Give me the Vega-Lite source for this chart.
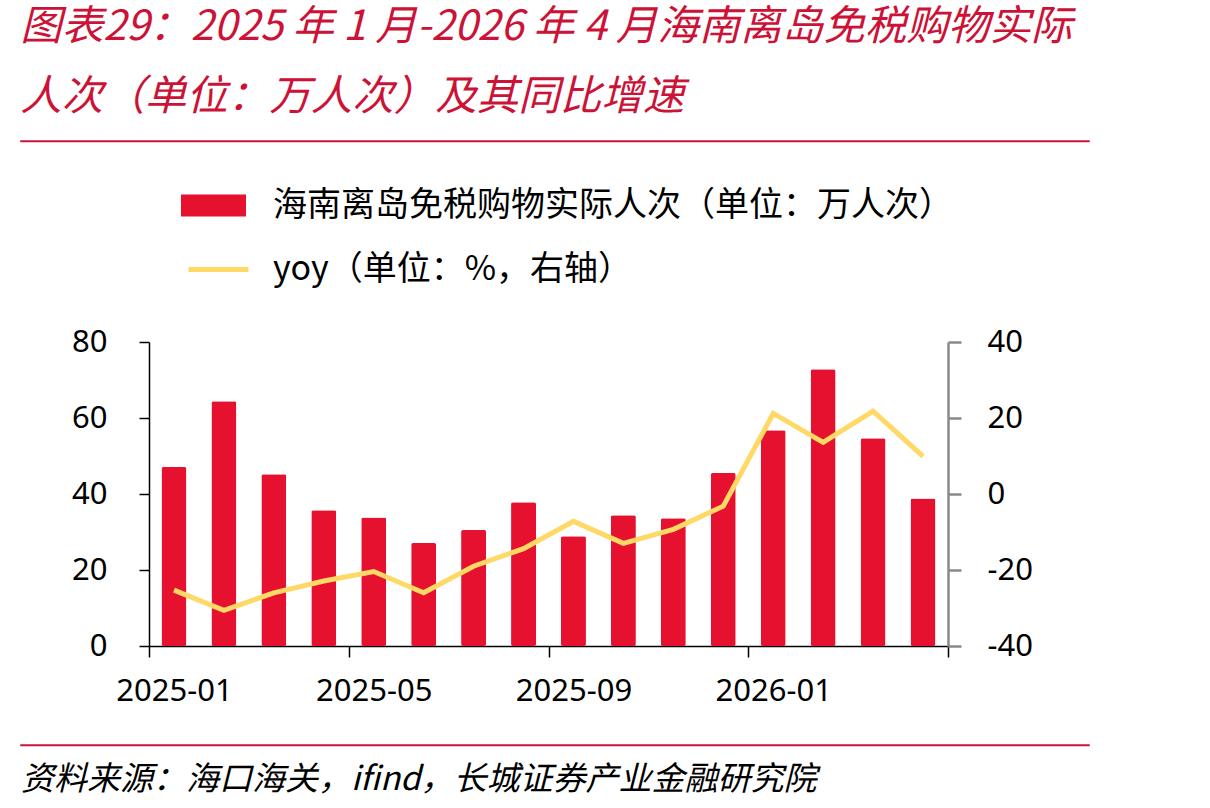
{
  "$schema": "https://vega.github.io/schema/vega-lite/v6.json",
  "background": "white",
  "padding": {"left": 20, "top": 6, "right": 0, "bottom": 0},
  "title": {
    "text": ["图表29：2025 年 1 月-2026 年 4 月海南离岛免税购物实际", "人次（单位：万人次）及其同比增速"],
    "anchor": "start",
    "font": "Noto Sans CJK SC",
    "fontSize": 41.5,
    "fontStyle": "italic",
    "fontWeight": "normal",
    "color": "#CC1236",
    "lineHeight": 70,
    "offset": 22
  },
  "datasets": {
    "tourism": [
      {"month": "2025-01", "visits": 47.1, "yoy": -25.3},
      {"month": "2025-02", "visits": 64.4, "yoy": -30.6},
      {"month": "2025-03", "visits": 45.2, "yoy": -26.0},
      {"month": "2025-04", "visits": 35.7, "yoy": -22.9},
      {"month": "2025-05", "visits": 33.8, "yoy": -20.4},
      {"month": "2025-06", "visits": 27.1, "yoy": -26.0},
      {"month": "2025-07", "visits": 30.5, "yoy": -19.0},
      {"month": "2025-08", "visits": 37.8, "yoy": -14.4},
      {"month": "2025-09", "visits": 28.9, "yoy": -7.2},
      {"month": "2025-10", "visits": 34.4, "yoy": -13.0},
      {"month": "2025-11", "visits": 33.6, "yoy": -9.3},
      {"month": "2025-12", "visits": 45.5, "yoy": -3.2},
      {"month": "2026-01", "visits": 56.8, "yoy": 21.2},
      {"month": "2026-02", "visits": 72.8, "yoy": 13.6},
      {"month": "2026-03", "visits": 54.7, "yoy": 21.8},
      {"month": "2026-04", "visits": 38.8, "yoy": 9.9}
    ]
  },
  "concat": [
    {
      "width": 1068,
      "height": 0.5,
      "view": {"stroke": "#CC1236", "strokeWidth": 1.5},
      "data": {"values": []},
      "mark": "point"
    },
    {
      "hconcat": [
        {
          "width": 28,
          "height": 1,
          "data": {"values": []},
          "mark": "point"
        },
        {
          "width": 799,
          "height": 304,
          "data": {"name": "tourism"},
          "encoding": {
            "x": {
              "field": "month",
              "type": "ordinal",
              "scale": {"paddingInner": 0, "paddingOuter": 0},
              "axis": {
                "orient": "bottom",
                "title": "\u00a0",
                "titleX": 0,
                "titleY": 67,
                "titleAngle": 0,
                "titleAlign": "left",
                "titleBaseline": "bottom",
                "titleFontSize": 8,
                "domainColor": "black",
                "domainWidth": 1.5,
                "tickBand": "extent",
                "tickColor": "black",
                "tickWidth": 1.5,
                "tickSize": 11,
                "tickOpacity": {
                  "condition": {"test": "datum.extra || indexof(['2025-04','2025-08','2025-12','2026-04'], datum.value) >= 0", "value": 1},
                  "value": 0
                },
                "labelExpr": "indexof(['2025-01','2025-05','2025-09','2026-01'], datum.value) >= 0 ? datum.value : ''",
                "labelAngle": 0,
                "labelOverlap": false,
                "labelFont": "Noto Sans",
                "labelFontSize": 31,
                "labelColor": "black",
                "labelPadding": 19
              }
            }
          },
          "layer": [
            {
              "mark": {"type": "bar", "width": {"band": 0.5}, "cornerRadius": 2},
              "encoding": {
                "y": {
                  "field": "visits",
                  "type": "quantitative",
                  "scale": {"domain": [0, 80]},
                  "axis": {
                    "orient": "left",
                    "values": [0, 20, 40, 60, 80],
                    "grid": false,
                    "domainColor": "black",
                    "domainWidth": 1.5,
                    "tickColor": "black",
                    "tickWidth": 1.5,
                    "tickSize": 10,
                    "labelFont": "Noto Sans",
                    "labelFontSize": 31,
                    "labelColor": "black",
                    "labelPadding": 32,
                    "title": "\u00a0",
                    "titleX": -100,
                    "titleY": -168,
                    "titleAngle": 0,
                    "titleAlign": "left",
                    "titleBaseline": "top",
                    "titleFontSize": 8
                  }
                },
                "fill": {
                  "datum": "海南离岛免税购物实际人次（单位：万人次）",
                  "type": "nominal",
                  "scale": {"range": ["#E6112E"]},
                  "legend": {
                    "orient": "none",
                    "legendX": 160,
                    "legendY": 32,
                    "title": null,
                    "padding": 0,
                    "symbolType": "M-1,-0.34H1V0.34H-1Z",
                    "symbolSize": 4225,
                    "symbolStrokeWidth": 0,
                    "labelFont": "Noto Sans CJK SC",
                    "labelFontSize": 34,
                    "labelColor": "black",
                    "labelOffset": 27,
                    "labelLimit": 0
                  }
                }
              }
            },
            {
              "mark": {"type": "line", "strokeWidth": 5},
              "encoding": {
                "y": {
                  "field": "yoy",
                  "type": "quantitative",
                  "scale": {"domain": [-40, 40]},
                  "axis": {
                    "orient": "right",
                    "values": [-40, -20, 0, 20, 40],
                    "grid": false,
                    "title": null,
                    "domainColor": "#898989",
                    "domainWidth": 2.5,
                    "tickColor": "#898989",
                    "tickWidth": 2.5,
                    "tickSize": 13,
                    "labelExpr": "'' + datum.value",
                    "labelFont": "Noto Sans",
                    "labelFontSize": 31,
                    "labelColor": "black",
                    "labelPadding": 26
                  }
                },
                "stroke": {
                  "datum": "yoy（单位：%，右轴）",
                  "type": "nominal",
                  "scale": {"range": ["#FFD966"]},
                  "legend": {
                    "orient": "none",
                    "legendX": 165,
                    "legendY": 96,
                    "title": null,
                    "padding": 0,
                    "symbolType": "stroke",
                    "symbolSize": 3600,
                    "symbolStrokeWidth": 5,
                    "labelFont": "Noto Sans CJK SC",
                    "labelFontSize": 34,
                    "labelColor": "black",
                    "labelOffset": 22,
                    "labelLimit": 0
                  }
                }
              }
            }
          ],
          "resolve": {"scale": {"y": "independent"}}
        }
      ],
      "spacing": 0
    },
    {
      "width": 1068,
      "height": 0.5,
      "view": {"stroke": "#CC1236", "strokeWidth": 1.5},
      "data": {"values": []},
      "mark": "point",
      "title": {
        "text": "资料来源：海口海关，ifind，长城证券产业金融研究院",
        "orient": "bottom",
        "anchor": "start",
        "font": "Noto Sans CJK SC",
        "fontSize": 33,
        "fontStyle": "italic",
        "fontWeight": "normal",
        "color": "black",
        "offset": 18
      }
    }
  ],
  "columns": 1,
  "align": "none",
  "spacing": 31,
  "config": {
    "view": {"stroke": null},
    "font": "Noto Sans"
  }
}
